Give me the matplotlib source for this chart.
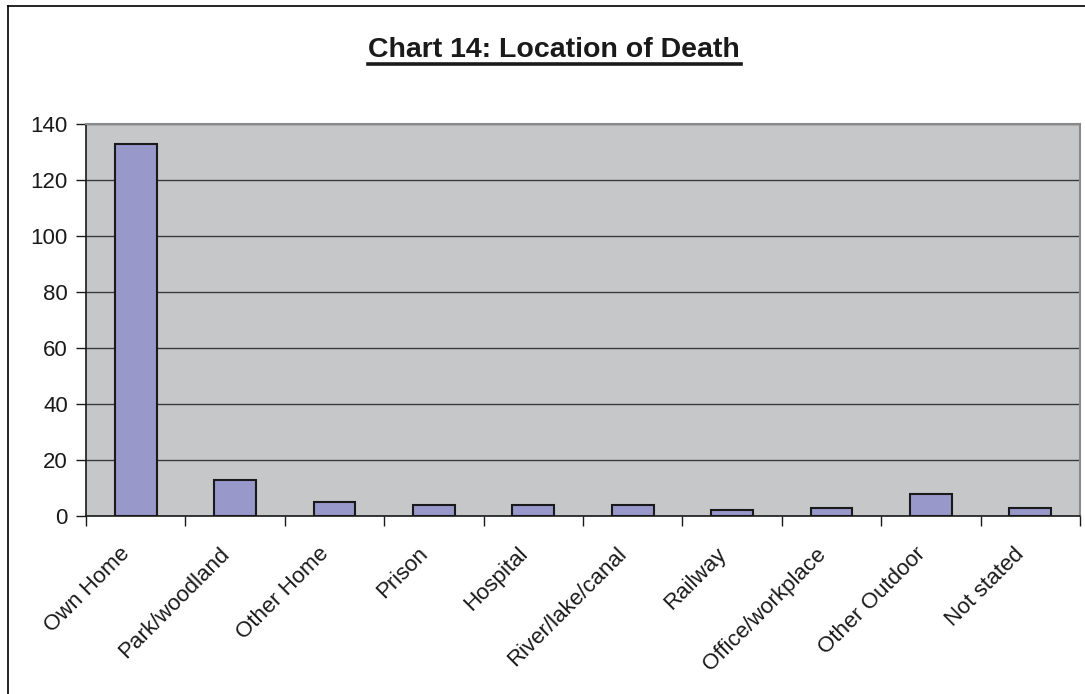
import matplotlib
matplotlib.use("Agg")
import matplotlib.pyplot as plt
from matplotlib.lines import Line2D
import numpy as np

categories = ["Own Home", "Park/woodland", "Other Home", "Prison", "Hospital",
              "River/lake/canal", "Railway", "Office/workplace", "Other Outdoor",
              "Not stated"]
deaths = [133, 13, 5, 4, 4, 4, 2, 3, 8, 3]
y_ticks = [0, 20, 40, 60, 80, 100, 120, 140]

plt.rcParams["font.family"] = ["Liberation Sans", "DejaVu Sans"]

W, H = 1085, 694
fig = plt.figure(figsize=(W / 100, H / 100), dpi=100)
fig.patch.set_facecolor("white")

# chart area frame (left and top edges)
fig.add_artist(Line2D([8 / W, 8 / W], [0, 1 - 6 / H], transform=fig.transFigure,
                      color="black", lw=1.2))
fig.add_artist(Line2D([8 / W, 1], [1 - 6 / H, 1 - 6 / H], transform=fig.transFigure,
                      color="black", lw=1.2))

left, right, top, bottom = 86, 1080, 124, 516
ax = fig.add_axes([left / W, 1 - bottom / H, (right - left) / W, (bottom - top) / H])
ax.set_facecolor("#c6c7c9")

x = np.arange(len(categories))
ax.bar(x, deaths, width=0.42, color="#9898ca", edgecolor="#1a1a1a", linewidth=1.5,
       zorder=3)

ax.set_xlim(-0.5, len(categories) - 0.5)
ax.set_ylim(0, 140)
ax.set_yticks(y_ticks)
ax.set_yticklabels([str(v) for v in y_ticks], fontsize=16, color="#1a1a1a")
ax.yaxis.grid(True, color="#3a3a3a", linewidth=1.0, zorder=1)
ax.set_axisbelow(True)

# category boundary ticks on the x axis
ax.set_xticks(np.arange(-0.5, len(categories) + 0.5, 1.0))
ax.set_xticklabels([])
ax.tick_params(axis="x", length=7, width=1, color="#1a1a1a", direction="out")
ax.tick_params(axis="y", length=7, width=1, color="#1a1a1a", direction="out", pad=6)

for xi, name in zip(x, categories):
    ax.text(xi - 0.09, -12.5, name, rotation=45, rotation_mode="anchor",
            ha="right", va="center", fontsize=16, color="#1a1a1a",
            transform=ax.transData, clip_on=False)

for side in ("top", "right"):
    ax.spines[side].set_color("#8a8a8a")
    ax.spines[side].set_linewidth(1.5)
for side in ("left", "bottom"):
    ax.spines[side].set_color("#1a1a1a")
    ax.spines[side].set_linewidth(1.2)

fig.text(554 / W, 1 - 50 / H, "Chart 14: Location of Death", ha="center",
         va="center", fontsize=20.5, fontweight="bold", color="#1a1a1a")
fig.add_artist(Line2D([368 / W, 741 / W], [1 - 63.5 / H, 1 - 63.5 / H],
                      transform=fig.transFigure, color="#1a1a1a", lw=2.6))

fig.savefig("out.png", dpi=100)
